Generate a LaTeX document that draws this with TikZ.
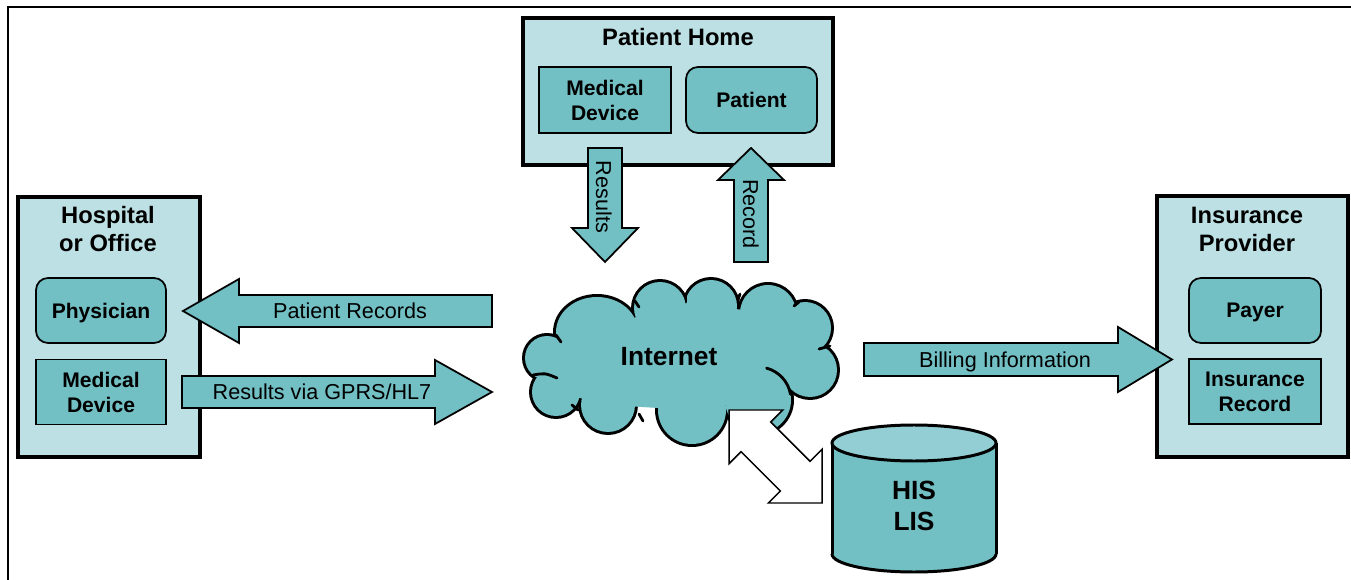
\documentclass[tikz,border=0pt]{standalone}
\usepackage{fontspec}
\setmainfont{Liberation Sans}
\definecolor{paleteal}{RGB}{188,224,227}
\definecolor{midteal}{RGB}{114,191,196}
\definecolor{topteal}{RGB}{146,206,211}
\begin{document}
\begin{tikzpicture}[x=0.02cm,y=-0.02cm,
  outerbox/.style={draw, line width=1.8pt, fill=paleteal, inner sep=0pt},
  innerbox/.style={draw, line width=1pt, fill=midteal, inner sep=0pt, align=center,
     font=\fontsize{12}{14.2}\selectfont\bfseries, text depth=0pt},
  roundbox/.style={innerbox, rounded corners=6.8pt},
  titletext/.style={align=center, font=\fontsize{13.5}{15.9}\selectfont\bfseries, inner sep=0pt},
  blockarrow/.style={draw, line width=1pt, fill=midteal, line join=miter},
  arrowtext/.style={font=\fontsize{12.3}{14}\selectfont, inner sep=0pt, text depth=0pt},
  puffborder/.style={draw=black, line width=3.4pt},
  pufftick/.style={line width=1.6pt, line cap=round},
  bigtext/.style={font=\fontsize{15}{18.1}\selectfont\bfseries, align=center, inner sep=0pt},
  dbline/.style={line width=1.7pt},
]
\useasboundingbox (0,0) rectangle (1351,580);
\fill[white] (0,0) rectangle (1351,580);

% page frame
\draw[line width=1.6pt] (8,600) -- (8,7) -- (1370,7);

% ---- Patient Home ----
\node[outerbox, minimum width=6.2cm, minimum height=2.94cm] (home) at (678,91.5) {};
\node[titletext] (hometitle) at (678,37) {Patient Home};
\node[innerbox, minimum width=2.64cm, minimum height=1.32cm] (homedev) at (605,100) {Medical\\Device};
\node[roundbox, minimum width=2.62cm, minimum height=1.32cm] (patient) at (751.5,100) {Patient};

% ---- Hospital or Office ----
\node[outerbox, minimum width=3.64cm, minimum height=5.2cm] (hosp) at (109,327) {};
\node[titletext] (hosptitle) at (108,229) {Hospital\\or Office};
\node[roundbox, minimum width=2.6cm, minimum height=1.3cm] (phys) at (101,310.5) {Physician};
\node[innerbox, minimum width=2.6cm, minimum height=1.3cm] (hospdev) at (101,392) {Medical\\Device};

% ---- Insurance Provider ----
\node[outerbox, minimum width=3.82cm, minimum height=5.22cm] (ins) at (1252.5,326.5) {};
\node[titletext] (institle) at (1247,229) {Insurance\\Provider};
\node[roundbox, minimum width=2.64cm, minimum height=1.3cm] (payer) at (1255,310.5) {Payer};
\node[innerbox, minimum width=2.64cm, minimum height=1.3cm] (insrec) at (1255,391.5) {Insurance\\Record};

% ---- block arrows ----
\draw[blockarrow] (588,148) -- (622,148) -- (622,228) -- (638,228) -- (605,262)
  -- (572,228) -- (588,228) -- cycle;
\node[arrowtext, rotate=-90] (results) at (604,197) {Results};

\draw[blockarrow] (734,262) -- (734,180) -- (718,180) -- (751,148) -- (784,180)
  -- (768,180) -- (768,262) -- cycle;
\node[arrowtext, rotate=-90] (record) at (751,214) {Record};

\draw[blockarrow] (183,311) -- (239,279) -- (239,295) -- (492,295) -- (492,327)
  -- (239,327) -- (239,343) -- cycle;
\node[arrowtext] (precs) at (350,311) {Patient Records};

\draw[blockarrow] (182,376) -- (435,376) -- (435,360) -- (492,392) -- (435,424)
  -- (435,408) -- (182,408) -- cycle;
\node[arrowtext] (gprs) at (322,392) {Results via GPRS/HL7};

\draw[blockarrow] (864,343) -- (1118,343) -- (1118,327) -- (1172,359.5) -- (1118,392)
  -- (1118,376) -- (864,376) -- cycle;
\node[arrowtext] (billing) at (1005,359.5) {Billing Information};

% ---- Internet cloud: union of puffs, outline first, then fill ----
\def\puffs{547/358/22/22, 597/332/41/35, 660/308/26/26, 711/306/26/26,
    768/313/28/28, 805/328/26/26, 810/370/27/27, 758/400/33/33, 692/410/34/34,
    608/405/27/27, 556/392/24/24}
\foreach \cx/\cy/\rx/\ry in \puffs
  \draw[puffborder] (\cx,\cy) ellipse[x radius=\rx, y radius=\ry];
\fill[midteal] (547,358) -- (597,332) -- (660,308) -- (711,306) -- (768,313) -- (805,328)
  -- (810,370) -- (758,400) -- (692,410) -- (608,405) -- (556,392) -- cycle;
\foreach \cx/\cy/\rx/\ry in \puffs
  \fill[midteal] (\cx,\cy) ellipse[x radius=\rx, y radius=\ry];
% inner puff strokes
\draw[pufftick] (758,400) ++(-75:33) arc[start angle=-75, end angle=-10, radius=33];
\draw[pufftick] (533,375) .. controls (545,373) .. (557,378);
\draw[pufftick] (556,335) -- (561,342);
\draw[pufftick] (635,301) -- (639,307);
\draw[pufftick] (686,296) -- (686,302);
\draw[pufftick] (740,294) -- (738,300);
\draw[pufftick] (799,302) -- (794,306);
\draw[pufftick] (830,346) -- (819,349);
\draw[pufftick] (643,421) -- (639,414);
\draw[pufftick] (578,410) -- (572,405);
\node[bigtext] (internet) at (669,357) {Internet};

% ---- two-way link to the database ----
\draw[line width=0.85pt, fill=white, line join=miter]
  (729,410) coordinate (linkA) -- (782.7,410) -- (770.7,422) -- (810,461.3) -- (822,449.3)
  -- (822,503) coordinate (linkB) -- (768.3,503) -- (780.3,491) -- (741,451.7)
  -- (729,463.7) -- cycle;

% ---- HIS / LIS database ----
\fill[midteal] (832,443) rectangle (996,554);
\fill[midteal] (914,554) ellipse[x radius=82, y radius=18];
\begin{scope}
  \clip (820,554) rectangle (1010,590);
  \draw[dbline] (914,554) ellipse[x radius=82, y radius=18];
\end{scope}
\draw[dbline] (832,443) -- (832,554) (996,443) -- (996,554);
\draw[dbline, fill=topteal] (914,443) ellipse[x radius=82, y radius=18];
\node[bigtext] (hislis) at (914,506) {HIS\\LIS};
\end{tikzpicture}
\end{document}
